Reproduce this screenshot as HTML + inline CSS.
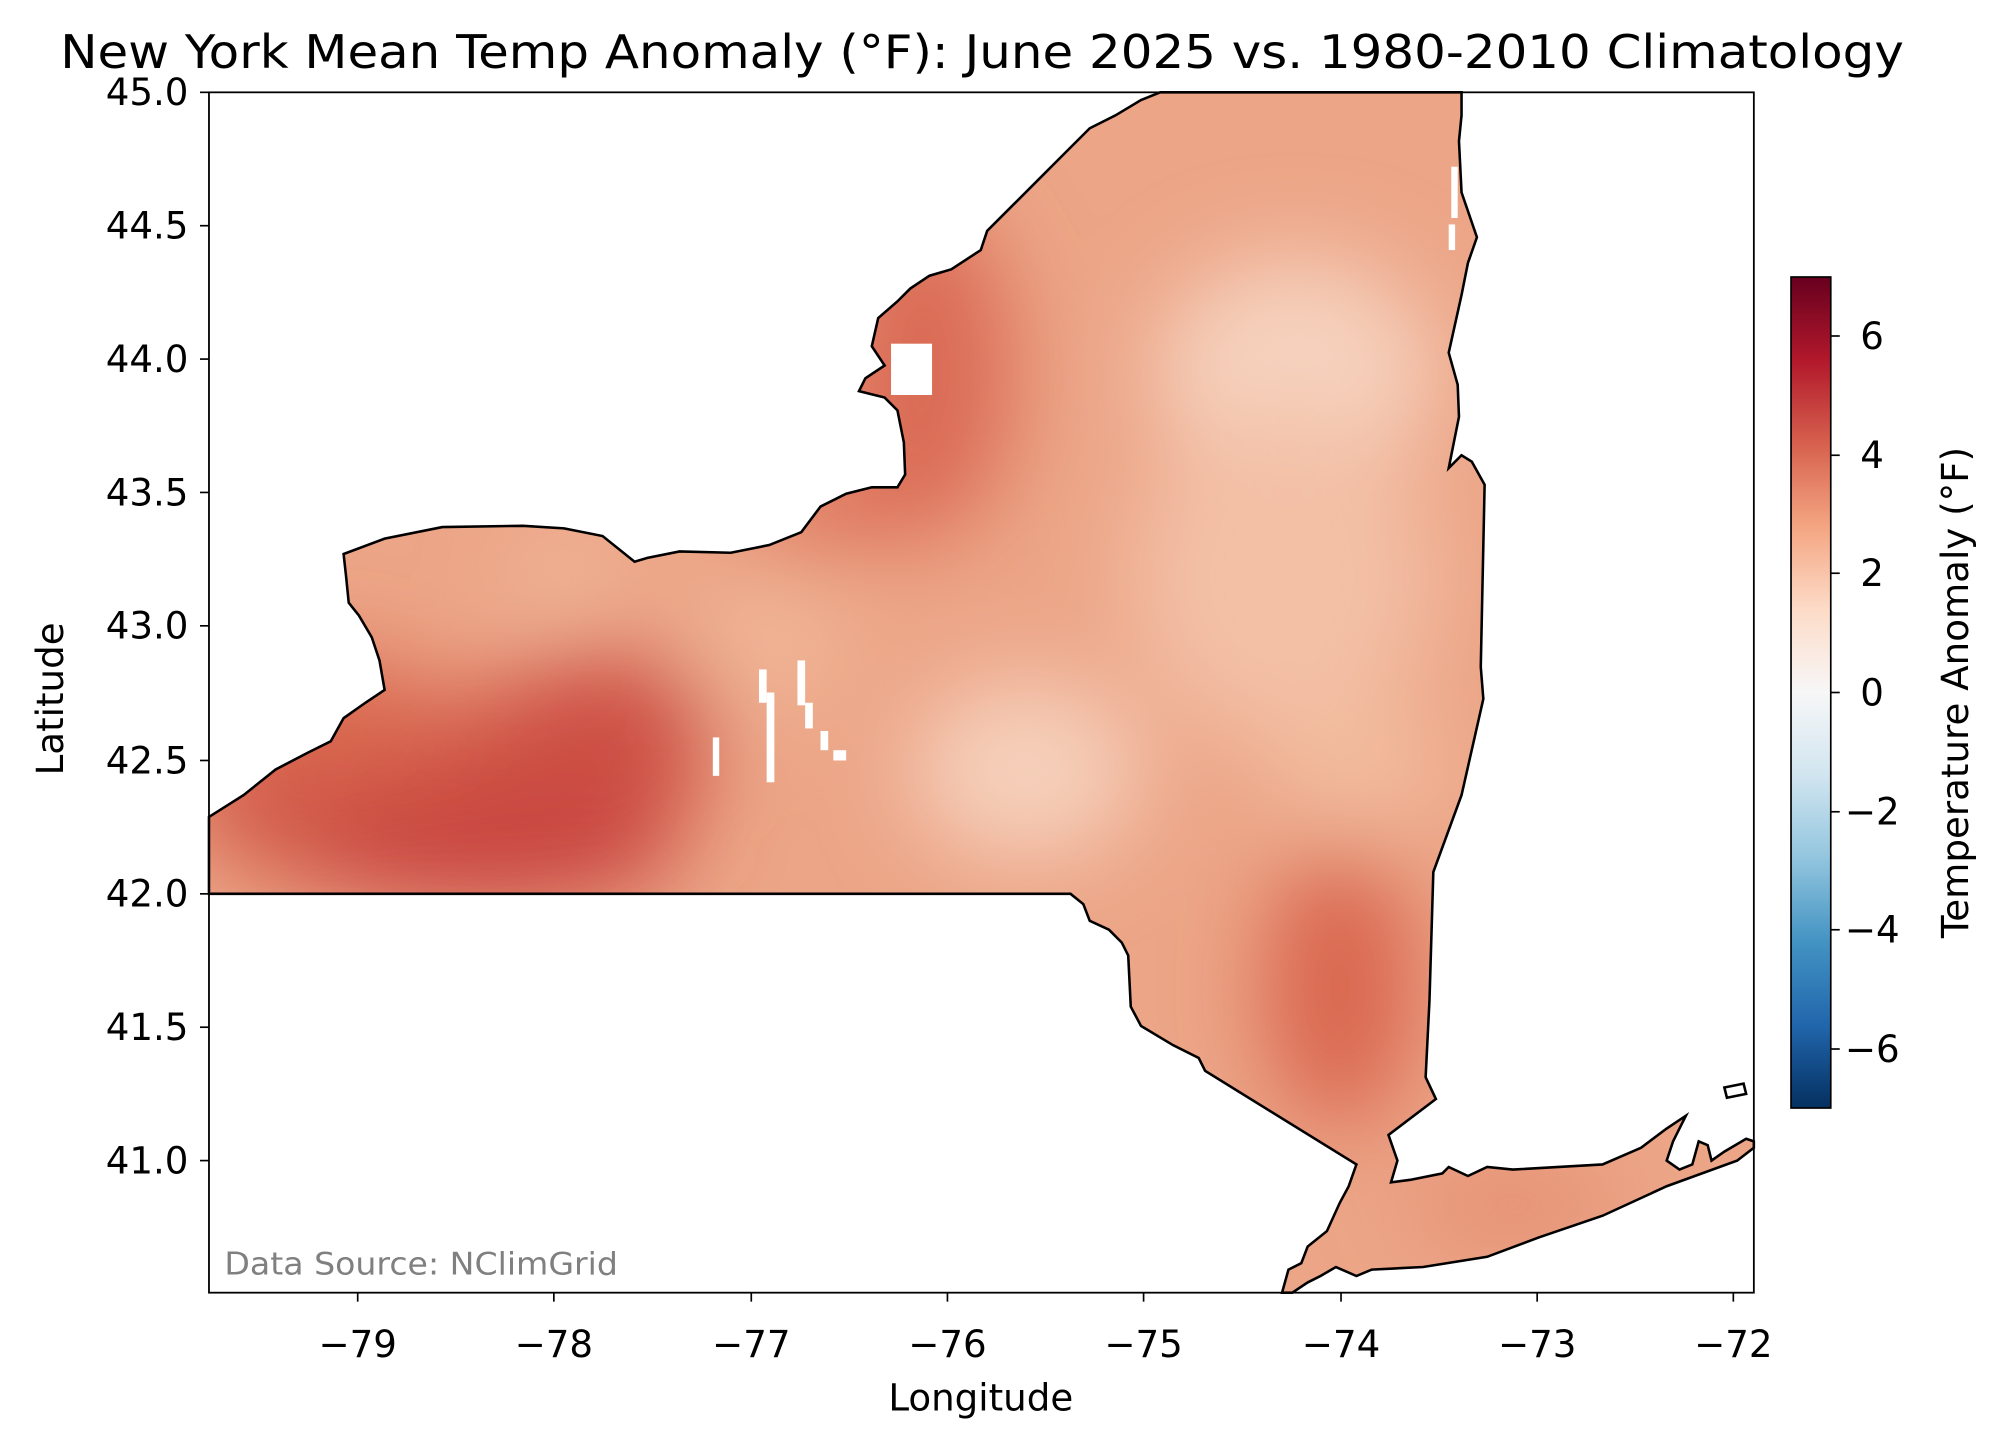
<!DOCTYPE html>
<html><head><meta charset="utf-8"><style>
html,body{margin:0;padding:0;background:#fff;}
svg{display:block;}
text{font-family:"DejaVu Sans","Liberation Sans",sans-serif;fill:#000;}
</style></head><body>
<svg width="2000" height="1444" viewBox="0 0 1560 1126" preserveAspectRatio="none" xmlns="http://www.w3.org/2000/svg">
<defs>
<linearGradient id="cb" x1="0" y1="0" x2="0" y2="1">
<stop offset="0" stop-color="#67001f"/>
<stop offset="0.1" stop-color="#b2182b"/>
<stop offset="0.2" stop-color="#d6604d"/>
<stop offset="0.3" stop-color="#f4a582"/>
<stop offset="0.4" stop-color="#fddbc7"/>
<stop offset="0.5" stop-color="#f7f7f7"/>
<stop offset="0.6" stop-color="#d1e5f0"/>
<stop offset="0.7" stop-color="#92c5de"/>
<stop offset="0.8" stop-color="#4393c3"/>
<stop offset="0.9" stop-color="#2166ac"/>
<stop offset="1" stop-color="#053061"/>
</linearGradient>
<clipPath id="ny"><path id="nyp" d="M163,637 L190,620 L215,600 L240,587 L258,578 L268,560 L285,548 L300,538 L296,515 L290,497 L280,480 L272,470 L270,450 L268,432 L300,420 L345,411 L408,410 L440,412 L470,418 L495,438 L505,435 L530,430 L570,431 L600,425 L625,415 L640,395 L660,385 L680,380 L700,380 L706,370 L705,345 L700,320 L690,310 L670,305 L675,295 L690,285 L680,270 L685,248 L700,235 L710,225 L725,215 L742,210 L765,195 L770,180 L790,160 L810,140 L830,120 L850,100 L870,90 L890,78 L905,72 L1140,72 L1140,90 L1138,110 L1140,150 L1152,185 L1145,205 L1140,230 L1130,275 L1137,300 L1138,325 L1130,365 L1140,355 L1148,360 L1158,378 L1155,520 L1157,545 L1140,620 L1118,680 L1115,780 L1112,840 L1120,857 L1083,885 L1090,905 L1085,922 L1100,920 L1125,915 L1130,910 L1145,917 L1160,910 L1180,912 L1250,908 L1280,895 L1300,880 L1315,870 L1305,890 L1300,905 L1310,912 L1320,908 L1325,890 L1332,893 L1335,905 L1345,898 L1362,888 L1368,890 L1368,895 L1355,905 L1300,925 L1250,948 L1200,965 L1160,980 L1110,988 L1070,990 L1058,995 L1042,988 L1030,995 L1020,1000 L1008,1008 L1000,1008 L1005,990 L1015,985 L1020,972 L1035,960 L1045,938 L1052,925 L1058,908 L940,835 L935,825 L915,815 L890,800 L882,785 L880,745 L875,735 L865,725 L850,718 L845,705 L835,697 L820,697 L163,697 Z"/></clipPath>
<filter id="bl" x="-50%" y="-50%" width="200%" height="200%"><feGaussianBlur stdDeviation="35"/></filter>
</defs>
<g clip-path="url(#ny)">
<rect x="163" y="72" width="1205" height="936" fill="#eca587"/>
<g filter="url(#bl)">
<ellipse cx="340" cy="620" rx="200" ry="80" fill="#d25a4a"/>
<ellipse cx="380" cy="660" rx="150" ry="45" fill="#c7423c"/>
<ellipse cx="470" cy="570" rx="90" ry="60" fill="#cd4f44"/>
<ellipse cx="260" cy="560" rx="80" ry="50" fill="#d9674f"/>
<ellipse cx="720" cy="290" rx="70" ry="130" fill="#da6a55"/>
<ellipse cx="640" cy="400" rx="70" ry="30" fill="#dd7058"/>
<ellipse cx="1045" cy="770" rx="60" ry="110" fill="#d9664f"/>
<ellipse cx="800" cy="600" rx="90" ry="70" fill="#f6d0bb"/>
<ellipse cx="1010" cy="290" rx="110" ry="90" fill="#f6d2be"/>
<ellipse cx="1000" cy="450" rx="120" ry="130" fill="#f3c0a6"/>
<ellipse cx="600" cy="500" rx="60" ry="60" fill="#f0b595"/>
<ellipse cx="440" cy="450" rx="40" ry="30" fill="#f2bb9d"/>
<ellipse cx="1060" cy="600" rx="70" ry="50" fill="#f2bb9c"/>
<ellipse cx="1180" cy="940" rx="80" ry="25" fill="#e3876c"/>
</g>
<rect x="592" y="522" width="6" height="26" fill="#fff"/>
<rect x="598" y="540" width="6" height="70" fill="#fff"/>
<rect x="622" y="515" width="6" height="35" fill="#fff"/>
<rect x="628" y="548" width="6" height="20" fill="#fff"/>
<rect x="640" y="570" width="6" height="15" fill="#fff"/>
<rect x="650" y="585" width="10" height="8" fill="#fff"/>
<rect x="556" y="575" width="5" height="30" fill="#fff"/>
<rect x="695" y="268" width="32" height="40" fill="#fff"/>
<rect x="1132" y="130" width="5" height="40" fill="#fff"/>
<rect x="1130" y="175" width="5" height="20" fill="#fff"/>
</g>
<use href="#nyp" fill="none" stroke="#000" stroke-width="2"/>
<path d="M1345,848 L1360,845 L1362,853 L1347,856 Z" fill="none" stroke="#000" stroke-width="2"/>
<rect x="163" y="72" width="1205" height="936" fill="none" stroke="#000" stroke-width="1.4"/>
<g stroke="#000" stroke-width="1.3">
<line x1="279" y1="1008" x2="279" y2="1015"/><line x1="432" y1="1008" x2="432" y2="1015"/><line x1="586" y1="1008" x2="586" y2="1015"/><line x1="739" y1="1008" x2="739" y2="1015"/><line x1="892" y1="1008" x2="892" y2="1015"/><line x1="1046" y1="1008" x2="1046" y2="1015"/><line x1="1199" y1="1008" x2="1199" y2="1015"/><line x1="1352" y1="1008" x2="1352" y2="1015"/>
<line x1="156" y1="72" x2="163" y2="72"/><line x1="156" y1="176" x2="163" y2="176"/><line x1="156" y1="280" x2="163" y2="280"/><line x1="156" y1="384" x2="163" y2="384"/><line x1="156" y1="488" x2="163" y2="488"/><line x1="156" y1="593" x2="163" y2="593"/><line x1="156" y1="697" x2="163" y2="697"/><line x1="156" y1="801" x2="163" y2="801"/><line x1="156" y1="905" x2="163" y2="905"/>
</g>
<g font-size="29" text-anchor="middle">
<text x="279" y="1058">−79</text><text x="432" y="1058">−78</text><text x="586" y="1058">−77</text><text x="739" y="1058">−76</text><text x="892" y="1058">−75</text><text x="1046" y="1058">−74</text><text x="1199" y="1058">−73</text><text x="1352" y="1058">−72</text>
</g>
<g font-size="29" text-anchor="end">
<text x="147" y="82">45.0</text><text x="147" y="186">44.5</text><text x="147" y="290">44.0</text><text x="147" y="394">43.5</text><text x="147" y="498">43.0</text><text x="147" y="603">42.5</text><text x="147" y="707">42.0</text><text x="147" y="811">41.5</text><text x="147" y="915">41.0</text>
</g>
<text x="765" y="1100" font-size="29" text-anchor="middle">Longitude</text>
<text transform="translate(49,545) rotate(-90)" font-size="29" text-anchor="middle">Latitude</text>
<text x="766" y="53" font-size="36" text-anchor="middle" textLength="1438" lengthAdjust="spacingAndGlyphs">New York Mean Temp Anomaly (°F): June 2025 vs. 1980-2010 Climatology</text>
<text x="175" y="994" font-size="24" style="fill:#808080" textLength="307" lengthAdjust="spacingAndGlyphs">Data Source: NClimGrid</text>
<rect x="1397" y="216" width="31" height="648" fill="url(#cb)" stroke="#000" stroke-width="1.3"/>
<g stroke="#000" stroke-width="1.3">
<line x1="1428" y1="262" x2="1435" y2="262"/><line x1="1428" y1="355" x2="1435" y2="355"/><line x1="1428" y1="447" x2="1435" y2="447"/><line x1="1428" y1="540" x2="1435" y2="540"/><line x1="1428" y1="633" x2="1435" y2="633"/><line x1="1428" y1="725" x2="1435" y2="725"/><line x1="1428" y1="818" x2="1435" y2="818"/>
</g>
<g font-size="29">
<text x="1451" y="272">6</text><text x="1451" y="365">4</text><text x="1451" y="457">2</text><text x="1451" y="550">0</text><text x="1439" y="643">−2</text><text x="1439" y="735">−4</text><text x="1439" y="828">−6</text>
</g>
<text transform="translate(1535,540) rotate(-90)" font-size="29" text-anchor="middle">Temperature Anomaly (°F)</text>
</svg>
</body></html>
